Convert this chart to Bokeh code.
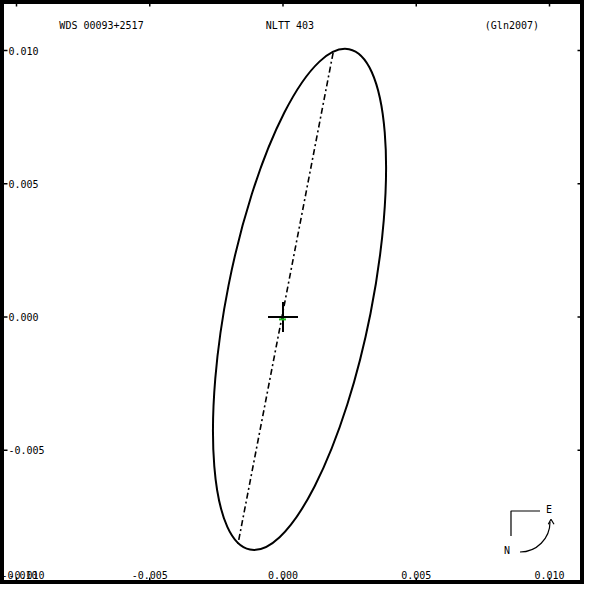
from bokeh.plotting import figure
from bokeh.models import Range1d
from bokeh.core.properties import value
from bokeh.embed import file_html
from bokeh.resources import INLINE

# ---- data (arcsec) ----
wds_name = "WDS 00093+2517"
disc_name = "NLTT 403"
orbit_ref = "(Gln2007)"

tick_values = [-0.010, -0.005, 0.000, 0.005, 0.010]
x_tick_labels = ["-0.010", "-0.005", "0.000", "0.005", "0.010"]
y_tick_labels = ["-0.010", "-0.005", "0.000", "0.005", "0.010"]

# apparent orbit ellipse
orbit_cx = [0.00062]
orbit_cy = [0.00066]
orbit_major = [0.01914]
orbit_minor = [0.00543]
orbit_angle = [78.8]

# line of nodes
node_x = [0.00188, -0.00169]
node_y = [0.00991, -0.00852]

# primary and measure
primary_x = [0.0]
primary_y = [0.0]
measure_x = [-0.00002]
measure_y = [-0.00009]

# ---- figure ----
W = 584
SCALE = 26650.0  # px per arcsec
X0 = -0.010 - 16 / SCALE
X1 = X0 + W / SCALE
Y1 = 0.010 + 50 / SCALE
Y0 = Y1 - W / SCALE

p = figure(width=W, height=W, x_range=Range1d(X0, X1), y_range=Range1d(Y0, Y1),
           x_axis_location=None, y_axis_location=None, toolbar_location=None,
           output_backend="svg", min_border=0)
p.grid.visible = False
p.background_fill_color = "white"
p.border_fill_color = "white"
p.outline_line_color = "black"
p.outline_line_width = 7

FONT = value("DejaVu Sans Mono")
FS = value("10px")

# ticks on all four sides (inward)
n = len(tick_values)
p.scatter([X0] * n, tick_values, marker="dash", size=14, line_color="black", line_width=1.5)
p.scatter([X1] * n, tick_values, marker="dash", size=14, line_color="black", line_width=1.5)
p.scatter(tick_values, [Y1] * n, marker="dash", angle=1.5708, size=12, line_color="black", line_width=1.5)
p.scatter(tick_values, [Y0] * n, marker="dash", angle=1.5708, size=14, line_color="black", line_width=1.5)

# tick labels (inside frame)
y_row = Y1 - 574 / SCALE
p.text(tick_values[1:], [y_row] * (n - 1), text=x_tick_labels[1:], text_align="center",
       text_baseline="middle", text_font=FONT, text_font_size=FS, text_color="black")
p.text([X0], [y_row], text=x_tick_labels[:1], text_align="left", x_offset=1,
       text_baseline="middle", text_font=FONT, text_font_size=FS, text_color="black")
p.text([X0] * (n - 1), tick_values[1:], text=y_tick_labels[1:], text_align="left", text_baseline="middle",
       x_offset=8, text_font=FONT, text_font_size=FS, text_color="black")
p.text([X0], [y_row], text=y_tick_labels[:1], text_align="left", text_baseline="middle",
       x_offset=8, text_font=FONT, text_font_size=FS, text_color="black")

# header texts
p.text([-0.00681, 0.00026, 0.00859], [0.01092] * 3, text=[wds_name, disc_name, orbit_ref],
       text_align="center", text_baseline="middle", text_font=FONT, text_font_size=FS, text_color="black")

# orbit
p.ellipse(orbit_cx, orbit_cy, width=orbit_major, height=orbit_minor, angle=orbit_angle,
          angle_units="deg", fill_color=None, line_color="black", line_width=2)
p.line(node_x, node_y, line_color="black", line_width=1.6, line_dash="6 3 2 3")

# primary
p.scatter(primary_x, primary_y, marker="cross", size=30, line_color="black", line_width=2)
p.scatter(measure_x, measure_y, marker="dash", size=7, line_color="#22bb22", line_width=2)

# compass
cx, cy = 0.008555, -0.007280
p.line([0.009644, cx, cx], [cy, cy, -0.008218], line_color="black", line_width=1.2)
p.text([0.009981, 0.008405], [-0.007242, -0.008743], text=["E", "N"], text_align="center",
       text_baseline="middle", text_font=FONT, text_font_size=FS, text_color="black")
p.arc(x=[0.008893], y=[-0.007692], radius=0.001126, start_angle=-1.5708, end_angle=0.0,
      line_color="black", line_width=1.2)
p.line([0.009955, 0.010056, 0.010169], [-0.007779, -0.007591, -0.007779], line_color="black", line_width=1.2)

open("out.html", "w").write(file_html(p, INLINE))
